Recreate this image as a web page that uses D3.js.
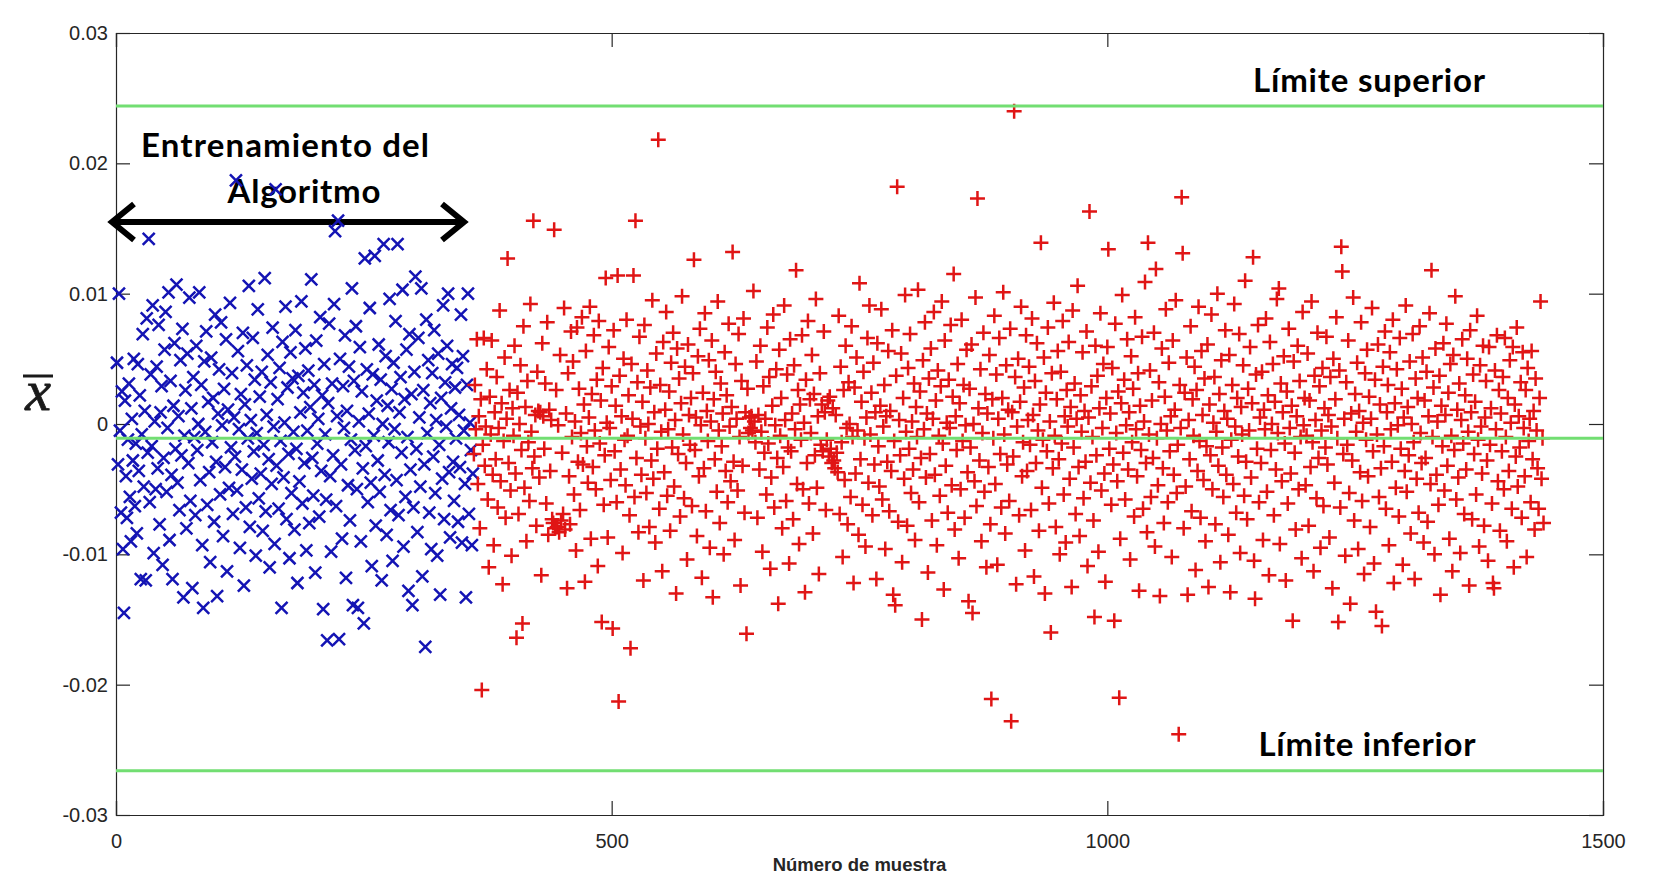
<!DOCTYPE html>
<html>
<head>
<meta charset="utf-8">
<script src="https://cdn.jsdelivr.net/npm/d3@7"></script>
<style>
  body { margin: 0; background: #fff; }
  svg { display: block; }
  .tick text { font-family: "Liberation Sans", Arial, sans-serif; font-size: 20px; fill: #262626; }
  .note { font-family: Lato, "Open Sans", sans-serif; font-weight: 700; font-size: 33px; fill: #000; }
</style>
</head>
<body>
<svg id="chart"></svg>
<script>
// sample means, units of 1e-3
// training samples (blue x), index 1..360
var blueVals = [
  4.7, -3.1, 10.0, -0.5, -6.8, 2.5, -9.6, -14.5, 1.8, -4.0, -7.2, -1.2, 3.1, -5.6, -9.0, 0.4, -2.8, 5.0, -6.3, -1.5,
  -8.4, 4.6, -3.6, 2.2, -11.9, -0.8, 6.9, -4.8, 1.0, -12.0, 8.1, -2.2, 14.2, -6.0, 3.8, -1.7, 9.1, -9.9, 0.2, -5.0,
  4.4, -3.4, 7.6, -7.7, 0.9, 2.9, -10.8, -2.6, 5.7, 8.6, -5.2, -0.3, 10.1, -8.9, 3.3, -3.9, -11.9, 1.4, 6.2, -1.9,
  10.7, -4.5, 0.6, -6.6, 4.9, -2.4, 7.3, -13.3, -0.9, 2.6, -8.0, 5.4, -3.0, 9.7, -5.9, 1.2, -12.6, 3.6, -1.0, -7.0,
  6.0, -2.0, 0.0, 10.1, -4.3, 3.0, -9.3, -14.1, 4.8, -0.6, 7.1, -6.2, 1.7, -3.7, -10.6, 5.1, -1.4, 2.0, -7.5, 8.4,
  -2.9, -13.2, 0.8, 4.2, -5.4, 7.8, -0.1, -8.6, 2.7, -3.3, 6.5, -11.3, 1.1, -4.9, 9.3, -1.8, 3.9, -6.9, 0.5, -2.5,
  18.7, -5.1, 5.6, -0.4, -9.5, 2.3, -3.5, 7.0, -12.4, 1.5, -6.4, 4.5, -1.1, 10.6, -7.9, 0.3, -4.2, 6.6, -2.1, 3.4,
  -10.1, -0.7, 8.8, -5.7, 2.1, -3.8, 4.0, -8.2, -1.6, 11.2, -6.7, 0.7, 5.3, -2.7, -11.0, 3.2, -4.6, 7.4, -0.2, -9.2,
  18.0, -3.2, 1.9, -6.5, 4.3, -1.3, -14.1, 6.3, -4.1, 0.1, 9.0, -7.3, 2.8, -2.3, -10.3, 5.5, -5.3, 3.5, -0.6, -8.1,
  7.2, -1.9, -12.2, 3.7, -4.4, 0.9, 9.4, -6.1, 2.4, -3.0, 5.8, -9.7, -0.5, 4.1, -7.6, 1.3, 11.1, -2.6, -5.5, 3.0,
  -11.4, 6.4, -1.5, 0.4, -7.1, 8.2, -3.6, 2.2, -14.2, 4.6, -0.8, -5.8, -16.6, 1.6, 7.7, -4.0, -9.8, 3.1, -2.4, 9.2,
  14.8, -6.3, 0.6, 15.6, -16.5, 5.0, -3.1, -8.8, 2.9, -0.3, 6.8, -11.8, 1.0, -4.7, 4.4, -7.4, -1.2, 10.4, -13.9, 3.3,
  -2.0, 7.5, -5.0, -14.1, 0.2, 5.9, -9.0, 2.5, -3.4, -15.3, 12.7, -1.7, 4.2, -6.0, 0.8, 8.9, -4.5, -10.9, 3.8, -0.9,
  12.9, -7.8, 1.8, -2.8, 6.1, -5.2, 3.4, -12.0, 0.0, 13.8, -3.9, 5.2, -8.5, 1.4, -1.4, 9.6, -6.6, 2.7, -10.5, 4.7,
  -0.4, 7.9, -4.3, 13.8, -7.0, 0.9, 3.6, -2.2, 10.3, -9.4, 1.9, -5.6, 5.7, -1.0, -12.8, 6.9, -3.5, 2.3, -13.9, -6.4,
  4.0, 11.3, -1.9, -8.3, 6.6, 0.5, -4.8, 10.4, -11.7, 2.6, -3.1, -17.1, 8.0, -0.7, 4.9, -6.8, 1.6, -9.6, 3.9, -2.5,
  7.2, -5.3, 0.3, -10.1, 5.4, -1.6, -13.1, 2.0, -4.2, 9.1, -7.3, 3.2, -0.2, 6.0, 10.0, -3.7, -8.7, 1.2, 4.6, -2.9,
  -5.9, 2.8, -1.1, 4.3, -7.5, 0.7, -3.3, 8.4, -9.1, 5.2, -0.5, -4.6, -13.3, 3.0, 10.0, -6.9, 0.1, -2.0, -9.3, -3.8
];
// monitored samples (red +), index 361..1440
var redVals = [
  -2.3, 3.0, -0.4, 6.5, -4.6, 0.6, -8.0, 1.9, -20.4, -1.6, 6.6, -3.2, -0.2, 4.2, -5.8, -11.0, 2.1, -0.8, 6.4, -3.9,
  -9.3, 0.9, -2.7, 3.6, -6.4, -0.3, 8.7, -4.4, 1.6, -12.3, -1.3, 5.1, -7.2, 0.4, 12.7, -3.0, 2.6, -5.1, -10.1, 1.2,
  -0.9, 6.0, -3.8, -16.4, 2.4, -6.9, 0.0, 4.5, -2.0, -15.3, 7.5, -4.9, 1.3, -9.0, 3.3, -1.4, -5.9, 9.2, -0.6, -3.4,
  15.6, -2.5, 0.7, -7.8, 4.0, 1.0, -4.1, 0.9, -11.6, 6.2, 0.6, -1.9, 3.1, -6.1, 7.8, -8.5, 1.1, -3.6, 0.3, -7.3,
  -7.6, 14.9, -8.0, 2.6, -7.9, -0.1, -8.3, 5.3, -7.4, -2.2, -6.9, 8.9, -8.1, 0.8, -12.6, 3.9, -4.0, -7.7, 7.1, -1.0,
  4.8, -5.4, 0.2, -9.7, 7.4, -2.9, 2.7, -6.6, -0.7, 8.2, -3.1, 1.5, -12.1, 5.6, -1.7, -4.5, 0.5, 9.0, -8.8, 2.3,
  -3.3, 6.8, -0.5, -5.0, 3.4, -10.9, 7.9, -1.5, 1.8, -15.2, 4.3, -6.2, -2.4, 11.2, 0.1, -8.7, 5.9, -0.3, -4.3, 2.9,
  -15.7, 7.2, -2.1, 1.4, -6.0, 11.4, -21.3, 3.7, -3.5, 0.6, -9.9, 5.0, -1.2, -4.7, 8.0, -0.9, 2.2, -7.0, -17.2, 4.6,
  0.4, 11.4, -5.6, 15.6, -2.6, 3.2, -8.3, 6.7, -0.2, -3.9, 1.7, -12.0, 7.6, -1.1, -5.3, 4.1, 0.0, -7.9, 2.8, -2.8,
  9.5, -4.2, 0.9, -9.1, 5.4, -1.9, 21.8, -6.5, 3.0, -0.6, -11.3, 6.3, -3.7, 1.1, 8.6, -5.5, -0.4, 2.5, -8.2, 4.7,
  -1.8, 7.0, -4.8, 0.3, -13.0, 5.8, -2.3, 3.5, -7.1, 1.6, 9.8, -0.8, -5.7, 4.4, -3.0, -10.4, 6.1, 0.7, -1.6, 2.0,
  -6.3, 3.9, 12.6, -2.0, 0.5, -8.6, 5.2, -4.0, 7.3, -0.1, -11.8, 2.4, -3.4, 8.5, -6.7, 1.0, -1.3, 4.9, -9.5, 0.2,
  6.4, -13.3, 1.9, -2.7, 4.0, -5.2, 9.4, -0.5, -7.6, 3.1, -1.7, 0.8, -10.0, 5.5, -3.6, 2.2, -6.0, 7.7, -0.2, -4.4,
  1.3, 13.2, -2.9, -8.9, 4.6, 0.4, -5.1, 6.9, -1.0, -12.4, 3.3, -3.2, 8.1, -6.8, 0.9, -16.1, 2.7, -0.7, 0.5, -0.3,
  0.6, -0.5, 10.2, 0.2, -1.4, 4.8, -7.2, 0.7, -3.5, 6.0, -0.6, -9.8, 2.9, -2.2, 0.4, -5.4, 7.4, -1.5, 3.6, -11.1,
  -4.1, 1.4, 8.4, -6.4, -0.1, 4.2, -2.6, -13.8, 5.7, -0.9, 2.0, -8.0, -3.3, 9.1, 0.3, -5.9, 3.8, -1.8, -10.7, 6.5,
  -2.1, 0.8, -7.3, 4.5, -0.4, 11.8, -4.6, 2.6, -9.2, 1.5, -1.2, 6.8, -5.0, 0.1, -12.9, 3.4, -3.0, 7.9, -6.1, 1.9,
  -0.7, 5.3, -8.4, 2.3, -2.4, 9.6, -4.9, 0.6, -11.5, 3.9, -1.6, 1.5, -2.1, 7.1, 0.9, -6.6, -1.2, 1.8, -2.5, 2.1,
  -1.9, -3.0, 1.2, -2.8, -3.4, 0.7, -2.2, -3.7, 8.3, -6.9, 4.4, -1.4, -10.2, 2.6, -4.3, 6.0, -0.3, -7.7, 3.2, 0.0,
  -5.6, 7.5, -1.0, -12.2, 2.8, -3.8, 5.1, -0.5, -8.5, 10.8, -2.7, 1.7, -6.2, 4.0, -1.1, -9.4, 0.5, 6.6, -4.5, 9.1,
  -0.8, 2.4, -7.0, 4.7, -3.1, 0.9, -11.9, 6.2, -1.7, -4.8, 1.4, 8.8, -5.8, -0.2, 3.0, -9.6, 0.6, -2.9, 5.6, -6.7,
  1.0, -3.6, 7.2, -13.1, -1.3, -13.9, 3.7, 18.2, -7.5, 0.3, -2.4, 5.4, -10.6, 2.0, -4.2, 9.9, -0.6, -7.8, 4.3, -1.9,
  6.9, -5.3, 0.2, -3.5, 3.1, -8.9, 1.3, -1.0, 10.3, -6.0, 2.5, -2.6, -15.0, 4.9, -0.4, 7.8, -4.1, 0.8, -11.4, 3.5,
  -2.3, 5.8, -7.4, 0.4, 8.6, -3.9, 1.8, -9.3, 4.1, -0.9, -5.5, 2.9, 9.4, -1.5, -12.7, 6.4, -3.2, 0.1, -6.8, 3.4,
  -0.3, 7.6, -4.7, 2.1, 11.5, -8.1, 0.6, -2.0, 4.6, -10.3, 1.6, -5.0, 8.0, -1.3, 3.0, -7.2, -0.1, 5.7, -3.7, -13.6,
  2.7, -1.8, 6.1, -14.5, 0.0, -4.4, 9.7, -6.3, 17.3, 1.2, -2.8, 4.2, -9.0, -0.7, 7.0, -5.2, 2.3, -11.0, 0.8, -3.3,
  5.3, -7.7, -21.1, 1.9, -1.1, 8.3, -4.6, 3.8, -10.8, 0.4, 6.6, -2.3, -6.4, 2.0, 10.1, -0.8, -8.4, 4.5, -3.1, 1.1,
  -5.9, 7.3, -22.8, 0.9, -2.5, 24.0, 3.6, -12.3, -0.2, 5.0, -7.0, 1.7, 9.0, -4.0, -1.4, 2.8, -9.7, 6.8, -3.6, 0.3,
  4.4, -1.6, -6.6, 8.1, 0.7, -11.7, 3.3, -3.0, 6.2, -0.5, -8.2, 1.5, 13.9, -4.9, -1.2, 5.1, -13.0, 2.4, -2.1, 7.4,
  -6.1, 0.2, -16.0, 3.9, -3.4, 9.3, -0.9, -7.9, 1.9, 5.6, -2.7, -10.0, 4.0, -1.5, 7.9, -5.4, 0.6, -9.1, 2.6, -0.2,
  6.3, -4.2, 1.3, -12.5, 8.7, -1.8, 3.1, -6.9, 0.4, 10.6, -3.3, -8.6, 2.2, -0.6, 5.5, -5.7, 1.0, -2.9, 7.1, -10.9,
  0.5, 16.3, -4.5, 2.9, -1.0, -7.4, -14.8, 6.0, -2.4, 3.7, -9.8, 1.2, 8.5, -5.1, -0.3, 4.6, -3.8, -12.1, 2.0, 5.9,
  13.4, -1.9, 0.8, -6.2, 4.3, -3.1, -15.1, 7.7, -0.7, -4.4, 2.5, -21.0, -8.8, 1.6, 9.9, -2.2, 3.4, -5.8, -0.1, 6.5,
  -3.5, 0.9, -10.4, 5.2, -1.4, 2.7, -7.1, 8.2, -0.4, -4.0, 3.9, -12.8, 1.4, -2.0, 6.7, -6.5, 0.2, 10.9, -3.0, -8.3,
  13.9, -0.8, 4.1, -5.6, 1.8, -2.6, 7.0, -9.4, 11.9, -1.1, -4.7, 3.2, -13.2, 0.0, 5.8, -3.4, -7.6, 2.1, 8.8, -0.5,
  -6.0, 4.7, -2.1, 0.6, -10.2, 6.4, -3.9, 1.1, 9.5, -5.3, -1.6, -23.8, 3.0, -0.3, 17.4, 13.1, -8.0, 2.4, -4.8, 5.1,
  -13.1, 0.3, -2.7, 7.5, -6.7, 1.9, -0.9, 4.4, -11.2, 2.6, -3.6, 9.0, -1.3, -7.2, 5.6, 0.7, -4.3, 3.5, -9.0, -1.7,
  6.1, -12.5, 1.5, -2.4, 8.4, -5.0, 0.1, 3.6, -7.7, -0.6, 10.0, -3.2, 2.3, -10.6, 4.9, -1.8, -5.6, 1.0, 7.2, -3.9,
  0.4, -8.5, 5.3, -12.9, -1.2, 3.0, -4.6, 9.2, -0.2, -6.8, 2.0, -2.5, 6.9, -9.9, 1.3, -0.8, 4.5, -5.5, 11.0, -2.9,
  -7.3, 2.7, -0.5, 5.9, -4.1, 1.6, 12.8, -10.5, -13.4, 3.8, -1.9, 7.6, -6.0, 0.5, -3.0, 4.0, -8.9, 1.1, -0.4, 8.1,
  -5.2, 2.2, -11.6, 6.3, -2.0, 0.0, 4.6, -7.0, 1.7, -3.5, 9.6, -0.7, 10.4, -9.2, 3.1, -4.4, 0.9, 5.2, -1.5, -12.0,
  2.5, -6.1, 7.3, -0.3, -3.8, 1.4, -15.1, 4.8, -2.2, -8.1, 0.6, 6.0, -5.0, 3.3, -1.0, -10.3, 8.6, -0.1, 2.0, -4.7,
  -0.9, 5.4, -7.8, 1.8, -3.3, 9.4, -1.4, -11.3, 3.7, 0.3, -5.7, 7.0, -2.6, 2.9, -9.5, -0.5, 4.3, -6.3, 1.2, -1.8,
  6.7, -3.1, 0.7, -8.7, 3.6, -0.2, -12.6, 5.0, -4.5, 1.9, 8.2, -1.1, -15.2, 4.1, -6.4, 13.6, 11.7, -2.3, 0.4, -10.1,
  3.2, -1.6, 6.4, -5.3, -13.8, 0.8, -2.8, 9.7, -7.4, 2.3, -0.6, 4.7, -9.6, 1.0, -3.7, 7.8, -5.9, 0.1, -11.5, 3.9,
  -1.2, 5.7, -4.0, 2.1, -7.9, 0.4, 8.9, -2.1, -10.7, 3.4, -14.4, -0.8, 6.1, -5.6, 1.5, -3.4, -15.5, 4.4, -1.7, 7.1,
  -6.5, 0.9, 3.0, -9.3, 5.5, -0.4, -2.9, 8.0, -12.2, 1.6, -4.9, 4.2, -0.1, -7.1, 6.6, -1.9, 2.7, -10.8, 0.5, -3.6,
  9.1, -5.2, 1.3, -2.4, 4.8, -8.4, 0.0, 6.9, -1.4, -11.9, 3.5, -4.2, 2.0, -6.8, 7.5, -0.7, -3.0, 5.1, -9.1, 1.8,
  -2.6, 4.0, -7.5, 0.6, 8.5, -4.6, 11.8, -1.0, 2.8, -10.0, 5.8, -3.9, 0.2, -6.2, 3.7, -13.1, 1.4, -1.7, 6.2, -5.1,
  0.7, 7.7, -3.2, 2.4, -8.8, 4.6, -0.9, -11.3, 5.3, -2.0, 9.8, -5.8, 1.1, -4.1, 3.1, -9.9, 0.3, 6.5, -1.5, -6.9,
  2.2, -3.5, 5.0, -0.6, -12.4, 7.2, 0.9, -7.3, 3.8, -2.3, 1.7, -5.4, 8.3, -1.2, -9.4, 4.5, -0.2, -3.8, 6.0, -7.8,
  0.5, 3.3, -2.8, -10.5, 5.9, -1.6, 1.2, -6.1, -12.2, -12.6, 4.1, -0.4, 6.8, -4.4, 2.6, -8.2, 0.8, -2.1, 3.6, -5.0,
  6.6, -1.0, -9.0, 2.0, -3.6, 4.9, 0.1, -6.5, 5.9, -11.0, 1.5, -2.5, 7.4, -4.8, 0.6, -1.8, 3.2, -7.2, 5.5, -0.3,
  -4.0, 2.6, -10.2, 4.3, -1.3, 0.4, -6.0, 5.6, -2.7, 1.0, -8.1, 3.5, -0.5, -3.4, -6.5, 2.0, 9.4, -4.2, -1.1, -7.6
];
// control lines (upper, centre, lower), units of 1e-3
var limitVals = [24.4, -1.1, -26.6];
var yTicks = [-0.03, -0.02, -0.01, 0, 0.01, 0.02, 0.03];
var xTicks = [0, 500, 1000, 1500];

var W = 1653, H = 886;
var plotL = 116, plotR = 1603, plotT = 33, plotB = 815;

var svg = d3.select("#chart").attr("width", W).attr("height", H);
svg.append("rect").attr("width", W).attr("height", H).attr("fill", "#fff");

var x = d3.scaleLinear().domain([0, 1500]).range([plotL, plotR]);
var y = d3.scaleLinear().domain([-0.03, 0.03]).range([plotB, plotT]);

function fmt(d) { return d === 0 ? "0" : String(+d.toFixed(2)); }

// axes, ticks inward on all four sides
var tick = 14;
svg.append("g").attr("transform", "translate(" + plotL + ",0)")
  .call(d3.axisLeft(y).tickValues(yTicks).tickFormat(fmt).tickSize(-tick).tickPadding(8));
svg.append("g").attr("transform", "translate(" + plotR + ",0)")
  .call(d3.axisRight(y).tickValues(yTicks).tickFormat("").tickSize(-tick));
svg.append("g").attr("transform", "translate(0," + plotB + ")")
  .call(d3.axisBottom(x).tickValues(xTicks).tickFormat(d3.format("d")).tickSize(-tick).tickPadding(19));
svg.append("g").attr("transform", "translate(0," + plotT + ")")
  .call(d3.axisTop(x).tickValues(xTicks).tickFormat("").tickSize(-tick));
svg.selectAll(".domain, .tick line").attr("stroke", "#262626").attr("stroke-width", 1.2);

// annotations
svg.append("text").attr("class", "note").attr("x", 285).attr("y", 157)
  .attr("text-anchor", "middle").attr("textLength", 288).text("Entrenamiento del");
svg.append("text").attr("class", "note").attr("x", 304).attr("y", 203)
  .attr("text-anchor", "middle").attr("textLength", 153).text("Algoritmo");
svg.append("text").attr("class", "note").attr("x", 1369).attr("y", 92)
  .attr("text-anchor", "middle").attr("textLength", 232).text("Límite superior");
svg.append("text").attr("class", "note").attr("x", 1367).attr("y", 756)
  .attr("text-anchor", "middle").attr("textLength", 217).text("Límite inferior");

// double arrow over the training window
var ay = 222, ax0 = 112, ax1 = 464, ah = 22, aw = 18;
var arrow = svg.append("g").attr("stroke", "#000").attr("stroke-width", 6).attr("fill", "none")
  .attr("stroke-linecap", "butt");
arrow.append("line").attr("x1", ax0 + 3).attr("x2", ax1 - 3).attr("y1", ay).attr("y2", ay);
arrow.append("path").attr("d", "M" + (ax0 + ah) + "," + (ay - aw) + "L" + ax0 + "," + ay + "L" + (ax0 + ah) + "," + (ay + aw));
arrow.append("path").attr("d", "M" + (ax1 - ah) + "," + (ay - aw) + "L" + ax1 + "," + ay + "L" + (ax1 - ah) + "," + (ay + aw));

// points
svg.append("g").attr("stroke", "#1414b4").attr("stroke-width", 2.5).attr("fill", "none")
  .selectAll("path").data(blueVals).enter().append("path")
  .attr("transform", function (d, i) { return "translate(" + x(i + 1) + "," + y(d / 1000) + ")"; })
  .attr("d", "M-6,-6L6,6M-6,6L6,-6");

svg.append("g").attr("stroke", "#e01515").attr("stroke-width", 2.5).attr("fill", "none")
  .selectAll("path").data(redVals).enter().append("path")
  .attr("transform", function (d, i) { return "translate(" + x(blueVals.length + i + 1) + "," + y(d / 1000) + ")"; })
  .attr("d", "M-7.5,0H7.5M0,-7.5V7.5");

// control limits
svg.append("g").selectAll("line").data(limitVals).enter().append("line")
  .attr("x1", plotL).attr("x2", plotR)
  .attr("y1", function (d) { return y(d / 1000); })
  .attr("y2", function (d) { return y(d / 1000); })
  .attr("stroke", "#72de72").attr("stroke-width", 3);

// axis labels
svg.append("text").attr("x", (plotL + plotR) / 2).attr("y", 871).attr("text-anchor", "middle")
  .style("font-family", "'Liberation Sans', Arial, sans-serif").style("font-weight", "bold")
  .style("font-size", "18.5px").attr("fill", "#262626").text("Número de muestra");
var yl = svg.append("g").attr("transform", "translate(38,410)");
yl.append("text").attr("text-anchor", "middle")
  .style("font-family", "'Liberation Serif', 'DejaVu Serif', serif").style("font-style", "italic")
  .style("font-size", "58px").attr("fill", "#1a1a1a").attr("stroke", "#1a1a1a").attr("stroke-width", 0.8)
  .text("x");
yl.append("line").attr("x1", -15).attr("x2", 15).attr("y1", -34).attr("y2", -34)
  .attr("stroke", "#1a1a1a").attr("stroke-width", 3);
</script>
</body>
</html>
